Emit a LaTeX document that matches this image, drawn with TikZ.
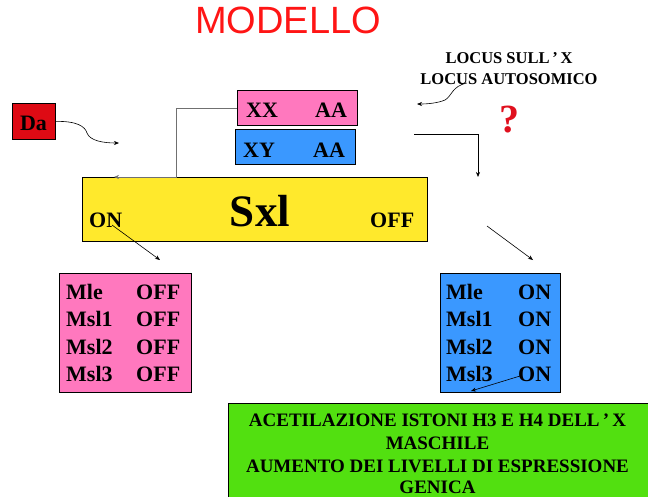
\documentclass[tikz,border=0pt]{standalone}
\usepackage{fontspec}
\setmainfont{Liberation Serif}
\newfontfamily\titlefont{Liberation Sans}
\usetikzlibrary{arrows.meta}
\definecolor{pinkc}{HTML}{FF78BE}
\definecolor{bluec}{HTML}{3A98FF}
\definecolor{yellowc}{HTML}{FFE92C}
\definecolor{greenc}{HTML}{52E010}
\definecolor{dared}{HTML}{DE0A14}
\definecolor{titlered}{HTML}{FF1515}
\definecolor{qred}{HTML}{E0101E}
\definecolor{linegray}{HTML}{707070}
\begin{document}
\begin{tikzpicture}[x=1pt,y=-1pt,
  box/.style={draw=black, line width=0.8pt, inner sep=0pt, anchor=north west},
  lbl/.style={inner sep=0pt, anchor=base west, font=\bfseries\fontsize{22}{26}\selectfont},
  gtxt/.style={inner sep=0pt, anchor=base, font=\bfseries\fontsize{19}{23}\selectfont},
  ltxt/.style={inner sep=0pt, anchor=base, font=\bfseries\fontsize{16.5}{20}\selectfont},
  arr/.style={-{Stealth[length=5pt,width=4pt]}, line width=0.6pt},
]
\useasboundingbox (0,0) rectangle (648,496);
\clip (0,0) rectangle (648,496);

% title
\node[inner sep=0pt, anchor=base, text=titlered, font=\titlefont\fontsize{38}{40}\selectfont] (title) at (288,33) {MODELLO};

% locus text and question mark
\node[ltxt] (locus1) at (509,63) {LOCUS SULL\,’\,X};
\node[ltxt] (locus2) at (509,84) {LOCUS AUTOSOMICO};
\node[inner sep=0pt, anchor=base, text=qred, font=\bfseries\fontsize{40}{44}\selectfont] (qm) at (509,132) {?};

% genotype boxes
\node[box, fill=pinkc, minimum width=120pt, minimum height=35pt] (xx) at (237,90) {};
\node[lbl] (xxa) at (246,117) {XX};
\node[lbl] (xxb) at (315,117) {AA};
\node[box, fill=bluec, minimum width=120pt, minimum height=35pt] (xy) at (235,129) {};
\node[lbl] (xya) at (243,157) {XY};
\node[lbl] (xyb) at (313,157) {AA};

% Da box
\node[box, fill=dared, minimum width=43pt, minimum height=36pt] (da) at (12,103) {};
\node[inner sep=0pt, anchor=base, font=\bfseries\fontsize{22}{26}\selectfont] (dat) at (33.5,130) {Da};

% Sxl box
\node[box, fill=yellowc, minimum width=345pt, minimum height=64pt] (sxlbox) at (82,177) {};
\node[inner sep=0pt, anchor=base, font=\bfseries\fontsize{45}{50}\selectfont] (sxl) at (260,226) {Sxl};
\node[lbl] (on) at (89,227) {ON};
\node[lbl] (off) at (370,227) {OFF};

% gene boxes
\node[box, fill=pinkc, minimum width=132pt, minimum height=119pt] (fem) at (59,273) {};
\node[box, fill=bluec, minimum width=120pt, minimum height=119pt] (mal) at (440,273) {};
\foreach \g [count=\i from 0] in {Mle,Msl1,Msl2,Msl3}{
  \node[lbl] (fg\i) at (66,299+27.6*\i) {\g};
  \node[lbl] (fs\i) at (136,299+27.6*\i) {OFF};
  \node[lbl] (mg\i) at (446,299+27.6*\i) {\g};
  \node[lbl] (ms\i) at (518,299+27.6*\i) {ON};
}

% green box
\node[box, fill=greenc, minimum width=430pt, minimum height=110pt] (green) at (228,403) {};
\node[gtxt] (g1) at (437.5,426) {ACETILAZIONE ISTONI H3 E H4 DELL\,’\,X};
\node[gtxt] (g2) at (437.5,449) {MASCHILE};
\node[gtxt] (g3) at (437.5,472) {AUMENTO DEI LIVELLI DI ESPRESSIONE};
\node[gtxt, text depth=0pt] (g4) at (437.5,493) {GENICA};

% connectors
\coordinate (sxlin) at (114,177);
\draw[arr, draw=linegray] (xx.west) -| (176,177) -- (sxlin);

\coordinate (rstart) at (414,134);
\coordinate (rend) at (478,177);
\draw[arr] (rstart) -| (rend);

\coordinate (daend) at (119,143);
\draw[arr] (da.east) .. controls (76,121) and (85,126) .. (87,133)
  .. controls (90,141) and (104,143) .. (daend);

\coordinate (locstart) at (467,83);
\coordinate (locend) at (417,104);
\draw[arr] (locstart) .. controls (452,86) and (452,96) .. (445,100)
  .. controls (438,103) and (428,104) .. (locend);

\coordinate (onstart) at (112,225);
\coordinate (fempt) at (160,260);
\draw[arr] (onstart) -- (fempt);

\coordinate (offstart) at (487,226);
\coordinate (malpt) at (533,260);
\draw[arr] (offstart) -- (malpt);

\coordinate (msl3start) at (520,376);
\coordinate (msl3end) at (471,391);
\draw[arr] (msl3start) -- (msl3end);
\end{tikzpicture}
\end{document}
